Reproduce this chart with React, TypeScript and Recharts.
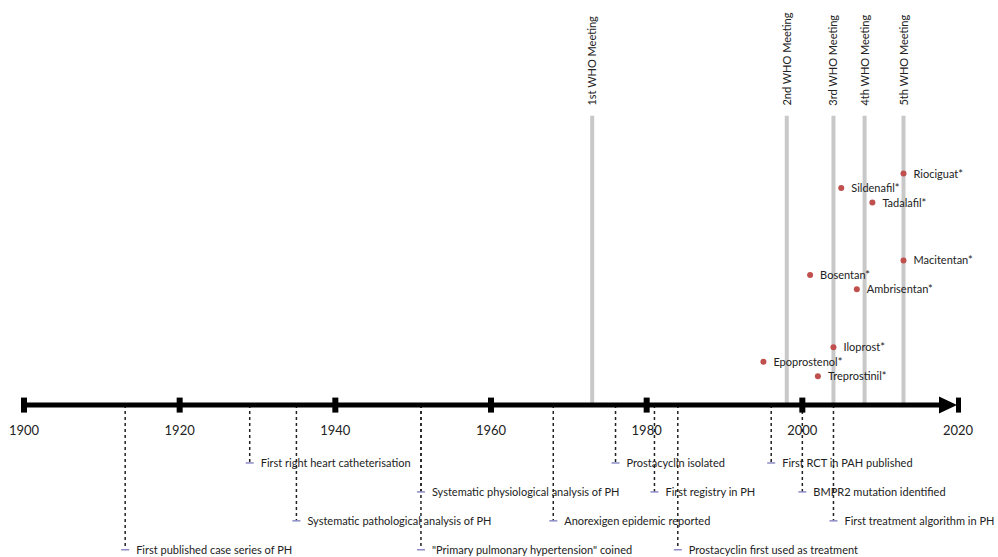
import { ComposedChart, XAxis, YAxis, Scatter, ReferenceLine } from 'recharts';

const yearTicks = [1900, 1920, 1940, 1960, 1980, 2000];
const axisEndYear = 2020;

const whoNames = ['1st WHO Meeting', '2nd WHO Meeting', '3rd WHO Meeting', '4th WHO Meeting', '5th WHO Meeting'];
const whoYears = [1973, 1998, 2004, 2008, 2013];
const whoTop = 20;

const drugNames = [
  'Riociguat*', 'Sildenafil*', 'Tadalafil*', 'Macitentan*', 'Bosentan*',
  'Ambrisentan*', 'Iloprost*', 'Epoprostenol*', 'Treprostinil*',
];
const drugYears = [2013, 2005, 2009, 2013, 2001, 2007, 2004, 1995, 2002];
const drugLevels = [16, 15, 14, 10, 9, 8, 4, 3, 2];

const eventNames = [
  'First published case series of PH',
  'First right heart catheterisation',
  'Systematic pathological analysis of PH',
  'Systematic physiological analysis of PH',
  '"Primary pulmonary hypertension" coined',
  'Anorexigen epidemic reported',
  'Prostacyclin isolated',
  'First registry in PH',
  'Prostacyclin first used as treatment',
  'First RCT in PAH published',
  'BMPR2 mutation identified',
  'First treatment algorithm in PH',
];
const eventYears = [1913, 1929, 1935, 1951, 1951, 1968, 1976, 1981, 1984, 1996, 2000, 2004];
const eventLevels = [-10, -4, -8, -6, -10, -8, -4, -6, -10, -4, -6, -8];

const FONT = 'Lato, "Open Sans", sans-serif';
const TEXT = '#222';

const tickData = [...yearTicks, axisEndYear].map((x) => ({ x, y: 0, label: String(x) }));
const endData = [{ x: axisEndYear, y: 0 }];
const whoData = whoYears.map((x, i) => ({ x, y: whoTop + 0.7, label: whoNames[i] }));
const drugData = drugYears.map((x, i) => ({ x, y: drugLevels[i], label: drugNames[i] }));
const eventData = eventYears.map((x, i) => ({ x, y: eventLevels[i], label: eventNames[i] }));

function TickShape(props: any) {
  const { cx, cy, payload } = props;
  const isEnd = payload.x === axisEndYear;
  return (
    <g>
      {!isEnd && <rect x={cx - 3} y={cy - 7.5} width={6} height={15} fill="#000" />}
      <text x={cx} y={cy + 30} textAnchor="middle" fontSize={13} fontFamily={FONT} fill={TEXT}>
        {payload.label}
      </text>
    </g>
  );
}

function EndShape(props: any) {
  const { cx, cy } = props;
  return (
    <g>
      <polygon points={`${cx - 19},${cy - 8.5} ${cx - 1},${cy} ${cx - 19},${cy + 8.5}`} fill="#000" />
      <rect x={cx - 2} y={cy - 7.5} width={5} height={15} fill="#000" />
    </g>
  );
}

function WhoShape(props: any) {
  const { cx, cy, payload } = props;
  return (
    <text
      x={cx}
      y={cy + 4}
      transform={`rotate(-90, ${cx}, ${cy})`}
      textAnchor="start"
      fontSize={11}
      fontFamily={FONT}
      fill={TEXT}
    >
      {payload.label}
    </text>
  );
}

function DrugShape(props: any) {
  const { cx, cy, payload } = props;
  return (
    <g>
      <circle cx={cx} cy={cy} r={3} fill="#c0504d" />
      <text x={cx + 10} y={cy + 4} fontSize={11} fontFamily={FONT} fill={TEXT}>
        {payload.label}
      </text>
    </g>
  );
}

function EventShape(props: any) {
  const { cx, cy, payload } = props;
  return (
    <g>
      <line x1={cx - 4} x2={cx + 4} y1={cy} y2={cy} stroke="#8c8cc8" strokeWidth={1.5} />
      <text x={cx + 11} y={cy + 4} fontSize={11} fontFamily={FONT} fill={TEXT}>
        {payload.label}
      </text>
    </g>
  );
}

export default function App() {
  return (
    <div style={{ width: 998, height: 557, background: '#fff' }}>
      <style>{'body{margin:0}'}</style>
      <ComposedChart width={998} height={557} margin={{ top: 0, right: 40, bottom: 0, left: 24 }}>
        <XAxis type="number" dataKey="x" domain={[1900, 2020]} hide />
        <YAxis type="number" dataKey="y" domain={[-10.5, 28]} hide />

        {whoYears.map((yr) => (
          <ReferenceLine
            key={`who-${yr}`}
            segment={[{ x: yr, y: 0 }, { x: yr, y: whoTop }]}
            stroke="#c8c8c8"
            strokeWidth={4}
          />
        ))}

        {eventYears.map((yr, i) => (
          <ReferenceLine
            key={`ev-${i}`}
            segment={[{ x: yr, y: 0 }, { x: yr, y: eventLevels[i] }]}
            stroke="#222"
            strokeWidth={1.5}
            strokeDasharray="3 3"
          />
        ))}

        <ReferenceLine
          segment={[{ x: 1900, y: 0 }, { x: 2018, y: 0 }]}
          stroke="#000"
          strokeWidth={5}
        />

        <Scatter data={tickData} shape={<TickShape />} isAnimationActive={false} />
        <Scatter data={endData} shape={<EndShape />} isAnimationActive={false} />
        <Scatter data={whoData} shape={<WhoShape />} isAnimationActive={false} />
        <Scatter data={drugData} shape={<DrugShape />} isAnimationActive={false} />
        <Scatter data={eventData} shape={<EventShape />} isAnimationActive={false} />
      </ComposedChart>
    </div>
  );
}
